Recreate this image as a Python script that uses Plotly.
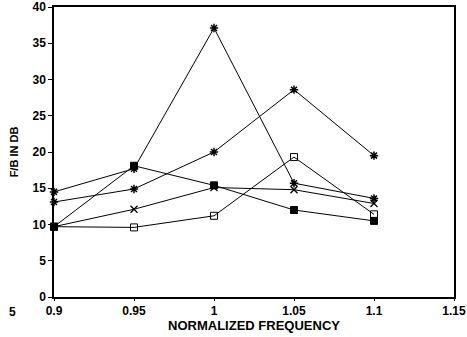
import plotly.graph_objects as go

freq = [0.9, 0.95, 1.0, 1.05, 1.1]
star_series = [14.5, 17.7, 37.1, 15.7, 13.6]
asterisk_series = [13.1, 14.9, 20.0, 28.6, 19.5]
filled_square = [9.7, 18.1, 15.4, 12.0, 10.5]
x_series = [9.7, 12.1, 15.1, 14.8, 12.9]
open_square = [9.7, 9.6, 11.2, 19.3, 11.4]

x_ticks = [0.9, 0.95, 1.0, 1.05, 1.1, 1.15]
x_tick_labels = ["0.9", "0.95", "1", "1.05", "1.1", "1.15"]
y_ticks = [0, 5, 10, 15, 20, 25, 30, 35, 40]

fig = go.Figure()

def add(y, symbol, size, lw=1.5):
    fig.add_trace(go.Scatter(
        x=freq, y=y, mode="lines+markers",
        line=dict(color="black", width=1),
        marker=dict(symbol=symbol, size=size, color="black",
                    line=dict(color="black", width=lw)),
        showlegend=False, cliponaxis=False))

add(star_series, "asterisk-open", 7, 1.5)
add(asterisk_series, "asterisk-open", 7, 1.5)
add(filled_square, "square", 7, 1)
add(x_series, "x-thin-open", 7, 1.3)
add(open_square, "square-open", 7, 1)

font = dict(family="Liberation Sans, Arial, sans-serif", size=12, color="black",
            weight="bold")

fig.update_layout(
    width=467, height=337,
    margin=dict(l=54, r=13, t=7, b=40),
    paper_bgcolor="white", plot_bgcolor="white",
    font=font,
    xaxis=dict(range=[0.9, 1.15], tickvals=x_ticks, ticktext=x_tick_labels,
               showgrid=False, zeroline=False, showline=True, linecolor="black",
               linewidth=1.5, mirror=True, ticks="outside", ticklen=2,
               tickcolor="black", automargin=False, ticklabeloverflow="allow",
               title=dict(text="NORMALIZED FREQUENCY", font=dict(size=13), standoff=1)),
    yaxis=dict(range=[0, 40], tickvals=y_ticks, showgrid=False, zeroline=False,
               showline=True, linecolor="black", linewidth=1.5, mirror=True,
               ticks="outside", ticklen=4, tickcolor="black", automargin=False,
               ticklabeloverflow="allow",
               title=dict(text="F/B IN DB", font=dict(size=11), standoff=12)),
    annotations=[dict(text="5", x=-0.105, y=-0.022, xref="paper", yref="paper",
                      showarrow=False, xanchor="center", yanchor="top",
                      font=dict(size=12, weight="bold"))],
)

fig.write_html("out.html", config={"displayModeBar": False},
               post_script="document.body.style.margin='0';")
